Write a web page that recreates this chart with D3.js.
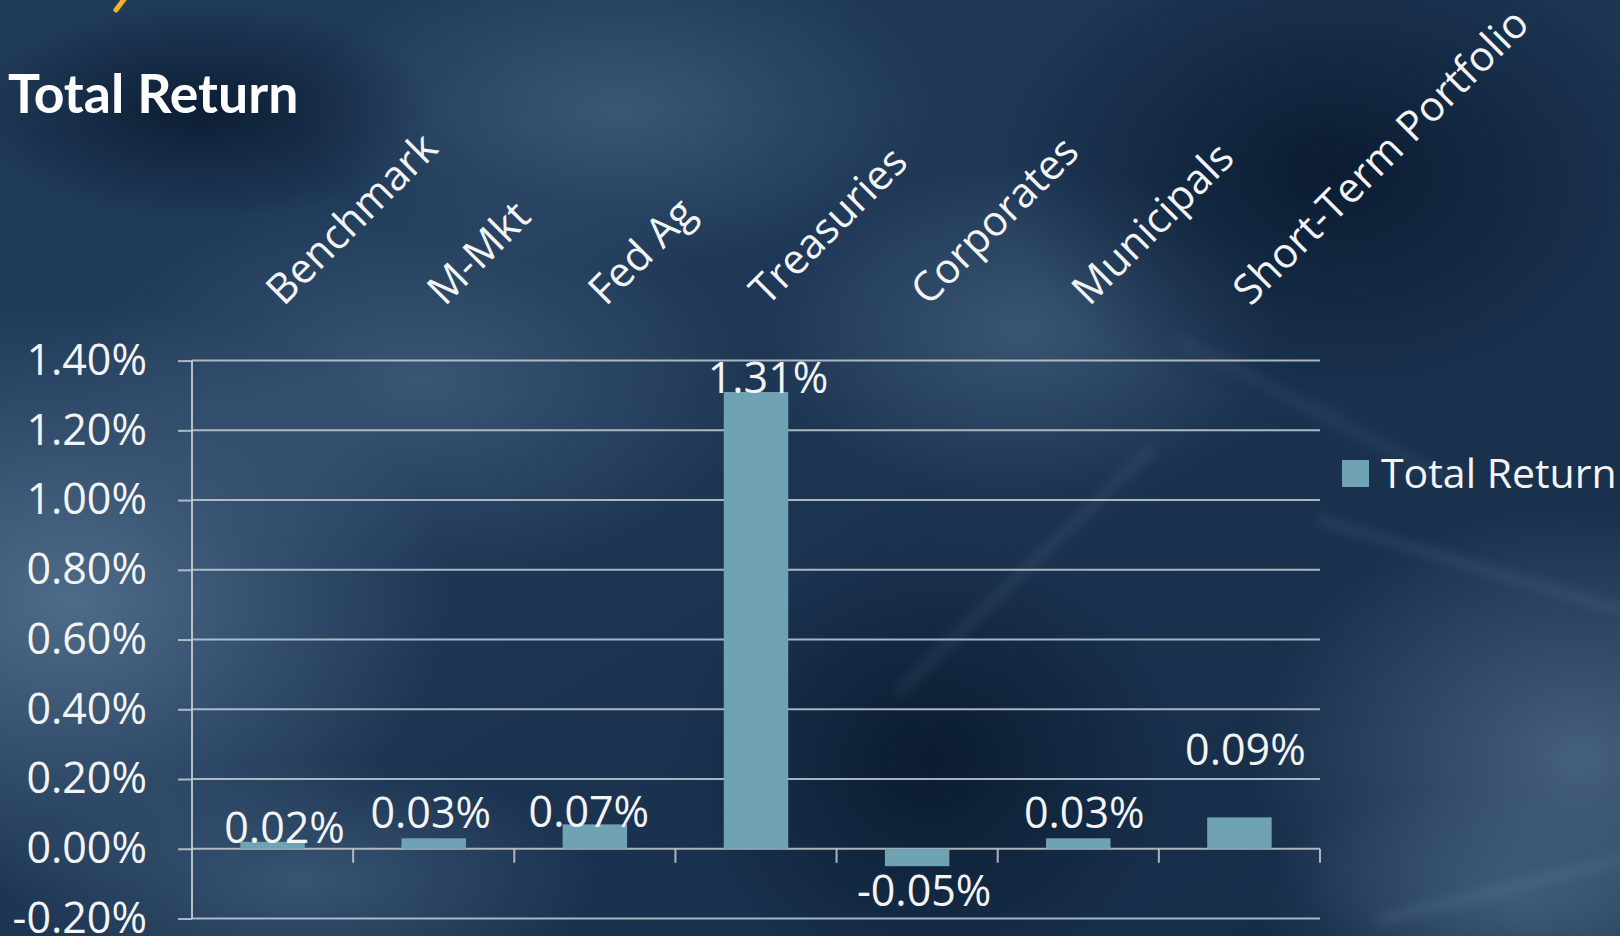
<!DOCTYPE html>
<html>
<head>
<meta charset="utf-8">
<script src="https://cdn.jsdelivr.net/npm/d3@7"></script>
<style>
  html, body { margin: 0; padding: 0; background: #1b3451; overflow: hidden; }
  svg { display: block; }
</style>
</head>
<body>
<svg id="chart" width="1620" height="936"></svg>
<script>
// ---- data ----
const categories = ["Benchmark", "M-Mkt", "Fed Ag", "Treasuries", "Corporates", "Municipals", "Short-Term Portfolio"];
const values = [0.02, 0.03, 0.07, 1.31, -0.05, 0.03, 0.09];
const yTicks = [-0.2, 0, 0.2, 0.4, 0.6, 0.8, 1.0, 1.2, 1.4];
const seriesName = "Total Return";
const titleText = "Total Return";

// ---- setup ----
const W = 1620, H = 936;
const svg = d3.select("#chart");
const defs = svg.append("defs");

// background gradients
const base = defs.append("linearGradient").attr("id", "bgBase")
  .attr("x1", "0").attr("y1", "0").attr("x2", "1").attr("y2", "1");
base.append("stop").attr("offset", "0%").attr("stop-color", "#213c5b");
base.append("stop").attr("offset", "45%").attr("stop-color", "#1d3654");
base.append("stop").attr("offset", "100%").attr("stop-color", "#142b45");

function radial(id, color, op) {
  const g = defs.append("radialGradient").attr("id", id);
  g.append("stop").attr("offset", "0%").attr("stop-color", color).attr("stop-opacity", op);
  g.append("stop").attr("offset", "100%").attr("stop-color", color).attr("stop-opacity", 0);
}
radial("glowA", "#5d7c99", 0.75);
radial("glowB", "#4c6a88", 0.6);
radial("glowC", "#5a7693", 0.7);
radial("darkA", "#07162a", 0.8);
defs.append("filter").attr("id", "blur").attr("x", "-50%").attr("y", "-50%").attr("width", "200%").attr("height", "200%")
  .append("feGaussianBlur").attr("stdDeviation", 6);

const bg = svg.append("g");
bg.append("rect").attr("width", W).attr("height", H).attr("fill", "url(#bgBase)");
const glows = [
  {cx: 70, cy: 600, rx: 380, ry: 300, f: "glowA"},
  {cx: 420, cy: 380, rx: 340, ry: 200, f: "glowB"},
  {cx: 620, cy: 110, rx: 320, ry: 160, f: "glowB"},
  {cx: 1020, cy: 330, rx: 260, ry: 170, f: "glowB"},
  {cx: 1580, cy: 760, rx: 330, ry: 260, f: "glowC"},
  {cx: 1520, cy: 900, rx: 260, ry: 120, f: "glowB"},
  {cx: 300, cy: 880, rx: 300, ry: 120, f: "glowB"},
  {cx: 1330, cy: 170, rx: 330, ry: 240, f: "darkA"},
  {cx: 930, cy: 760, rx: 250, ry: 230, f: "darkA"},
  {cx: 200, cy: 110, rx: 240, ry: 110, f: "darkA"}
];
bg.selectAll("ellipse").data(glows).join("ellipse")
  .attr("cx", d => d.cx).attr("cy", d => d.cy).attr("rx", d => d.rx).attr("ry", d => d.ry)
  .attr("fill", d => `url(#${d.f})`);
const streaks = [
  {x1: 900, y1: 690, x2: 1150, y2: 450, w: 10, o: 0.1},
  {x1: 1320, y1: 520, x2: 1620, y2: 610, w: 6, o: 0.18},
  {x1: 1380, y1: 920, x2: 1620, y2: 860, w: 5, o: 0.22},
  {x1: 1180, y1: 340, x2: 1450, y2: 480, w: 8, o: 0.1}
];
bg.selectAll("line").data(streaks).join("line")
  .attr("x1", d => d.x1).attr("y1", d => d.y1).attr("x2", d => d.x2).attr("y2", d => d.y2)
  .attr("stroke", "#9fb6cc").attr("stroke-width", d => d.w).attr("stroke-opacity", d => d.o)
  .attr("stroke-linecap", "round").attr("filter", "url(#blur)");

// yellow fragment of cut-off heading
svg.append("path").attr("d", "M125,-2 L116,10")
  .attr("stroke", "#f4b223").attr("stroke-width", 5).attr("stroke-linecap", "round");

// ---- scales ----
const plotLeft = 192, plotRight = 1320;
const x = d3.scaleBand().domain(categories).range([plotLeft, plotRight]).paddingInner(0).paddingOuter(0);
const y = d3.scaleLinear().domain([-0.2, 1.4]).range([918.5, 360.6]);
const bw = x.bandwidth();
const barColor = "#6fa3b3";
const gridColor = "#c5ccd3";
const textColor = "#f3f4f5";
const pct = d => d3.format(".2f")(d).replace("\u2212", "-") + "%";

// gridlines
svg.append("g").selectAll("line").data(yTicks).join("line")
  .attr("x1", plotLeft).attr("x2", plotRight)
  .attr("y1", d => y(d)).attr("y2", d => y(d))
  .attr("stroke", gridColor).attr("stroke-width", 2).attr("stroke-opacity", 0.85);

// y axis
const yAxis = svg.append("g").attr("transform", `translate(${plotLeft},0)`)
  .call(d3.axisLeft(y).tickValues(yTicks).tickSize(14).tickPadding(31).tickFormat(pct));
yAxis.select(".domain").attr("stroke", gridColor).attr("stroke-width", 2).attr("stroke-opacity", 0.9)
  .attr("d", `M0,${y(1.4)}V${y(-0.2)}`);
yAxis.selectAll(".tick line").attr("stroke", gridColor).attr("stroke-width", 2).attr("stroke-opacity", 0.85);
yAxis.selectAll(".tick text").attr("fill", textColor)
  .style("font-family", "'Open Sans', sans-serif").style("font-size", "43px");

// x ticks at category boundaries
svg.append("g").selectAll("line").data(categories).join("line")
  .attr("x1", d => x(d) + bw).attr("x2", d => x(d) + bw)
  .attr("y1", y(0)).attr("y2", y(0) + 14)
  .attr("stroke", gridColor).attr("stroke-width", 2).attr("stroke-opacity", 0.85);

// bars
const rows = categories.map((c, i) => ({c, v: values[i], i}));
svg.append("g").selectAll("rect").data(rows).join("rect")
  .attr("x", d => x(d.c) + bw * 0.3)
  .attr("width", bw * 0.4)
  .attr("y", d => y(Math.max(0, d.v)))
  .attr("height", d => Math.abs(y(d.v) - y(0)))
  .attr("fill", barColor);

// data labels (manual label nudges as in the original, styling only)
const labelNudge = [[12, 0], [-3, -11], [-6, 2], [12, 0], [7, 0], [6, -11], [6, -53]];
svg.append("g").selectAll("text").data(rows).join("text")
  .attr("x", d => x(d.c) + bw / 2 + labelNudge[d.i][0])
  .attr("y", d => (d.v >= 0 ? y(d.v) + 1 : y(d.v) + 40) + labelNudge[d.i][1])
  .attr("text-anchor", "middle")
  .attr("fill", textColor)
  .style("font-family", "'Open Sans', sans-serif").style("font-size", "43px")
  .text(d => pct(d.v));

// category labels (rotated, above plot)
svg.append("g").selectAll("text").data(categories).join("text")
  .attr("transform", d => `translate(${x(d) + bw / 2 + 11},307) rotate(-45)`)
  .attr("text-anchor", "start")
  .attr("fill", textColor)
  .style("font-family", "'Open Sans', sans-serif").style("font-size", "41.5px")
  .text(d => d);

// title
svg.append("text").attr("x", 8).attr("y", 113)
  .attr("fill", "#ffffff")
  .style("font-family", "Lato, sans-serif").style("font-weight", "bold").style("font-size", "53.5px")
  .text(titleText);

// legend
const lg = svg.append("g");
lg.append("rect").attr("x", 1342).attr("y", 460).attr("width", 27).attr("height", 27).attr("fill", barColor);
lg.append("text").attr("x", 1381).attr("y", 488)
  .attr("fill", textColor)
  .style("font-family", "'Open Sans', sans-serif").style("font-size", "41px")
  .text(seriesName);
</script>
</body>
</html>
